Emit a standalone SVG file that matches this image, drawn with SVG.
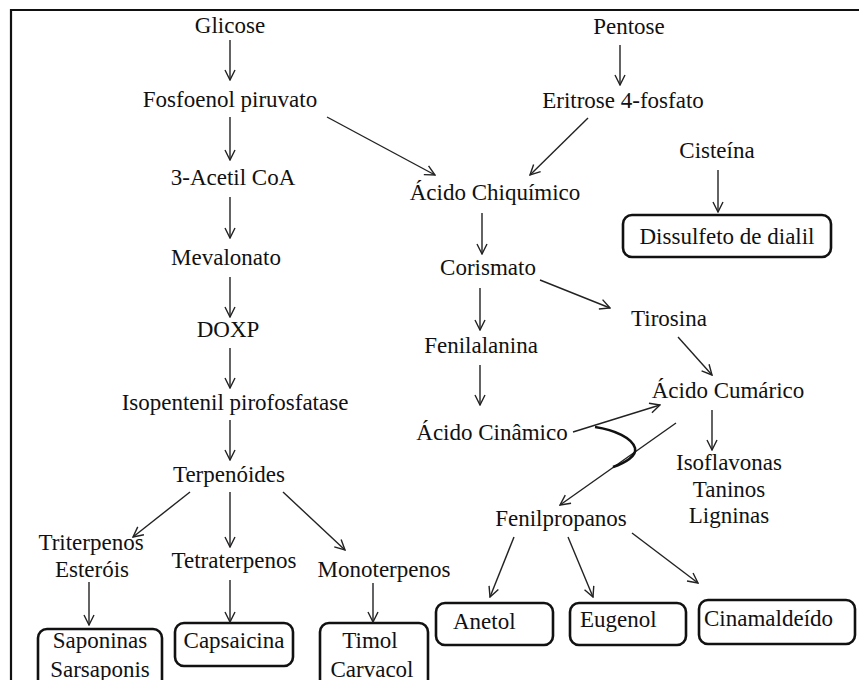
<svg xmlns="http://www.w3.org/2000/svg" width="859" height="680" viewBox="0 0 859 680" font-family="'Liberation Serif', 'DejaVu Serif', 'Times New Roman', serif">
<defs>
<marker id="ah" viewBox="0 0 12 12" refX="11" refY="6" markerWidth="12" markerHeight="12" markerUnits="userSpaceOnUse" orient="auto">
<path d="M1,1 L11,6 L1,11" fill="none" stroke="#222" stroke-width="1.4"/>
</marker>
<style>
text{font-family:'Liberation Serif','DejaVu Serif','Times New Roman',serif;font-size:23px;fill:#111;text-anchor:middle}
.l{text-anchor:start}
.c line{stroke:#222;stroke-width:1.4;marker-end:url(#ah)}
.b{fill:#fff;stroke:#111;stroke-width:2.6}
</style>
</defs>
<rect width="859" height="680" fill="#fff"/>
<path d="M11,680 L11,10 L859,10" fill="none" stroke="#111" stroke-width="2.2"/>

<g id="glicose"><text x="230" y="33">Glicose</text></g>
<g id="fosfoenol"><text x="230" y="107">Fosfoenol piruvato</text></g>
<g id="acetil"><text x="233" y="185">3-Acetil CoA</text></g>
<g id="mevalonato"><text x="226" y="265">Mevalonato</text></g>
<g id="doxp"><text x="228" y="337">DOXP</text></g>
<g id="isopentenil"><text x="235" y="410">Isopentenil pirofosfatase</text></g>
<g id="terpenoides"><text x="229" y="482">Terpenóides</text></g>
<g id="triterpenos"><text x="91" y="550">Triterpenos</text><text x="92" y="577">Esteróis</text></g>
<g id="tetraterpenos"><text x="234" y="568">Tetraterpenos</text></g>
<g id="monoterpenos"><text x="384" y="577">Monoterpenos</text></g>
<g id="saponinas"><rect class="b" x="38" y="629" width="124" height="70" rx="9"/><text x="100" y="648">Saponinas</text><text x="100" y="677">Sarsaponis</text></g>
<g id="capsaicina"><rect class="b" x="175" y="623" width="118" height="43" rx="9"/><text x="234" y="648">Capsaicina</text></g>
<g id="timol"><rect class="b" x="320" y="623" width="108" height="76" rx="9"/><text x="370" y="648">Timol</text><text x="372" y="677">Carvacol</text></g>

<g id="pentose"><text x="629" y="34">Pentose</text></g>
<g id="eritrose"><text x="623" y="108">Eritrose 4-fosfato</text></g>
<g id="chiquimico"><text x="495" y="200">Ácido Chiquímico</text></g>
<g id="cisteina"><text x="717" y="158">Cisteína</text></g>
<g id="dissulfeto"><rect class="b" x="623" y="215" width="208" height="42" rx="9"/><text x="727" y="244">Dissulfeto de dialil</text></g>
<g id="corismato"><text x="488" y="275">Corismato</text></g>
<g id="tirosina"><text x="669" y="326">Tirosina</text></g>
<g id="fenilalanina"><text x="481" y="353">Fenilalanina</text></g>
<g id="cinamico"><text x="492" y="440">Ácido Cinâmico</text></g>
<g id="cumarico"><text x="728" y="398">Ácido Cumárico</text></g>
<g id="isoflavonas"><text x="729" y="470">Isoflavonas</text><text x="729" y="497">Taninos</text><text x="729" y="523">Ligninas</text></g>
<g id="fenilpropanos"><text x="561" y="526">Fenilpropanos</text></g>
<g id="anetol"><rect class="b" x="436" y="603" width="117" height="42" rx="9"/><text class="l" x="453" y="629">Anetol</text></g>
<g id="eugenol"><rect class="b" x="570" y="603" width="116" height="42" rx="9"/><text class="l" x="580" y="627">Eugenol</text></g>
<g id="cinamaldeido"><rect class="b" x="699" y="600" width="156" height="44" rx="9"/><text class="l" x="704" y="626">Cinamaldeído</text></g>

<g id="connectors" class="c">
<line x1="230" y1="40" x2="230" y2="80"/>
<line x1="230" y1="117" x2="230" y2="160"/>
<line x1="230" y1="197" x2="230" y2="238"/>
<line x1="230" y1="277" x2="230" y2="317"/>
<line x1="230" y1="348" x2="230" y2="388"/>
<line x1="230" y1="420" x2="230" y2="460"/>
<line x1="190" y1="492" x2="133" y2="537"/>
<line x1="230" y1="492" x2="230" y2="547"/>
<line x1="283" y1="492" x2="345" y2="550"/>
<line x1="89" y1="582" x2="89" y2="625"/>
<line x1="230" y1="580" x2="230" y2="622"/>
<line x1="373" y1="583" x2="373" y2="622"/>
<line x1="620" y1="45" x2="620" y2="85"/>
<line x1="588" y1="118" x2="530" y2="175"/>
<line x1="327" y1="117" x2="435" y2="175"/>
<line x1="718" y1="170" x2="718" y2="212"/>
<line x1="482" y1="213" x2="482" y2="254"/>
<line x1="480" y1="288" x2="480" y2="330"/>
<line x1="540" y1="280" x2="610" y2="308"/>
<line x1="480" y1="365" x2="480" y2="405"/>
<line x1="678" y1="337" x2="712" y2="375"/>
<line x1="573" y1="432" x2="660" y2="405"/>
<line x1="676" y1="423" x2="560" y2="505"/>
<line x1="712" y1="410" x2="712" y2="450"/>
<line x1="514" y1="537" x2="490" y2="597"/>
<line x1="568" y1="537" x2="593" y2="597"/>
<line x1="632" y1="533" x2="698" y2="583"/>
</g>
<path d="M595,427 C615,430 632,438 635,448 C637,456 625,463 613,467" fill="none" stroke="#111" stroke-width="2.6"/>
</svg>
